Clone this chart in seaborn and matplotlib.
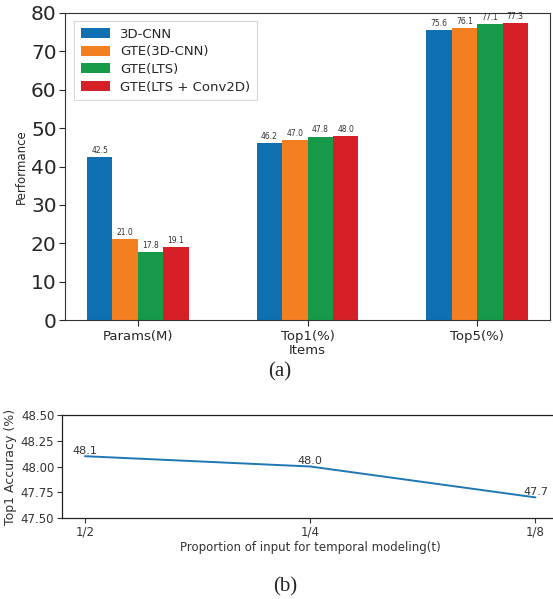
import matplotlib
matplotlib.use("Agg")
import matplotlib.pyplot as plt
import seaborn as sns
import pandas as pd
import numpy as np

# ---- data (a) ----
items = ["Params(M)", "Top1(%)", "Top5(%)"]
methods = ["3D-CNN", "GTE(3D-CNN)", "GTE(LTS)", "GTE(LTS + Conv2D)"]
vals_3dcnn = [42.5, 46.2, 75.6]
vals_gte3d = [21.0, 47.0, 76.1]
vals_gtelts = [17.8, 47.8, 77.1]
vals_gteconv = [19.1, 48.0, 77.3]
colors = ["#0e6fb1", "#f47f20", "#17994a", "#d71f27"]

# ---- data (b) ----
proportions = ["1/2", "1/4", "1/8"]
top1_acc = [48.1, 48.0, 47.7]

sns.set_style("ticks")
plt.rcParams["font.family"] = ["DejaVu Sans"]

fig = plt.figure(figsize=(5.53, 5.99), dpi=100)

# ---------- (a) bar chart ----------
ax1 = fig.add_axes([65/553, 1-320/599, (550-65)/553, (320-13)/599])
rows = []
for m, vals in zip(methods, [vals_3dcnn, vals_gte3d, vals_gtelts, vals_gteconv]):
    for it, v in zip(items, vals):
        rows.append({"Items": it, "Method": m, "Performance": v})
df = pd.DataFrame(rows)
sns.barplot(data=df, x="Items", y="Performance", hue="Method", order=items,
            hue_order=methods, palette=colors, width=0.6, linewidth=0,
            saturation=1, ax=ax1, errorbar=None)
for cont in ax1.containers:
    ax1.bar_label(cont, fmt="%.1f", fontsize=5.5, color="#333333", padding=1.5)
ax1.set_xlim(-0.43, 2.43)
ax1.set_ylim(0, 80)
ax1.set_yticks(np.arange(0, 81, 10))
ax1.tick_params(axis="y", labelsize=14.5, length=4, width=0.8, pad=2)
ax1.tick_params(axis="x", labelsize=9.5, length=4, width=0.8, pad=3)
ax1.set_xlabel("Items", fontsize=9.5, labelpad=1)
ax1.set_ylabel("Performance", fontsize=8.5, labelpad=2)
for s in ax1.spines.values():
    s.set_linewidth(0.8)
    s.set_color("#333333")
leg = ax1.legend(loc="upper left", fontsize=9.5, frameon=True, fancybox=False,
                 handlelength=2.2, handleheight=0.8, borderpad=0.5,
                 labelspacing=0.35, handletextpad=0.8, bbox_to_anchor=(0.005, 0.995))
leg.get_frame().set_edgecolor("#cccccc")
leg.get_frame().set_linewidth(0.8)

fig.text(280/553, 1-372/599, "(a)", ha="center", va="center",
         fontsize=15, family="Liberation Serif")

# ---------- (b) line chart ----------
ax2 = fig.add_axes([62/553, 1-518/599, (558-62)/553, (518-415)/599])
dfb = pd.DataFrame({"x": np.arange(len(proportions)), "acc": top1_acc})
sns.lineplot(data=dfb, x="x", y="acc", color="#1f77b4", linewidth=1.4, ax=ax2)
for xi, yi in zip(dfb["x"], dfb["acc"]):
    ax2.text(xi, yi + 0.005, f"{yi:.1f}", ha="center", va="bottom",
             fontsize=8, color="#333333")
ax2.set_xlim(-0.102, 2.1)
ax2.set_ylim(47.5, 48.5)
ax2.set_yticks([47.5, 47.75, 48.0, 48.25, 48.5])
ax2.set_yticklabels(["47.50", "47.75", "48.00", "48.25", "48.50"])
ax2.set_xticks(dfb["x"])
ax2.set_xticklabels(proportions)
ax2.tick_params(labelsize=8.5, colors="#333333", length=3.5, width=0.8, pad=2)
ax2.set_xlabel("Proportion of input for temporal modeling(t)", fontsize=8.5,
               color="#333333", labelpad=2)
ax2.set_ylabel("Top1 Accuracy (%)", fontsize=9, color="#333333", labelpad=3)
for s in ax2.spines.values():
    s.set_linewidth(0.9)
    s.set_color("#222222")

fig.text(285/553, 1-587/599, "(b)", ha="center", va="center",
         fontsize=15, family="Liberation Serif")

fig.savefig("out.png", dpi=100)
